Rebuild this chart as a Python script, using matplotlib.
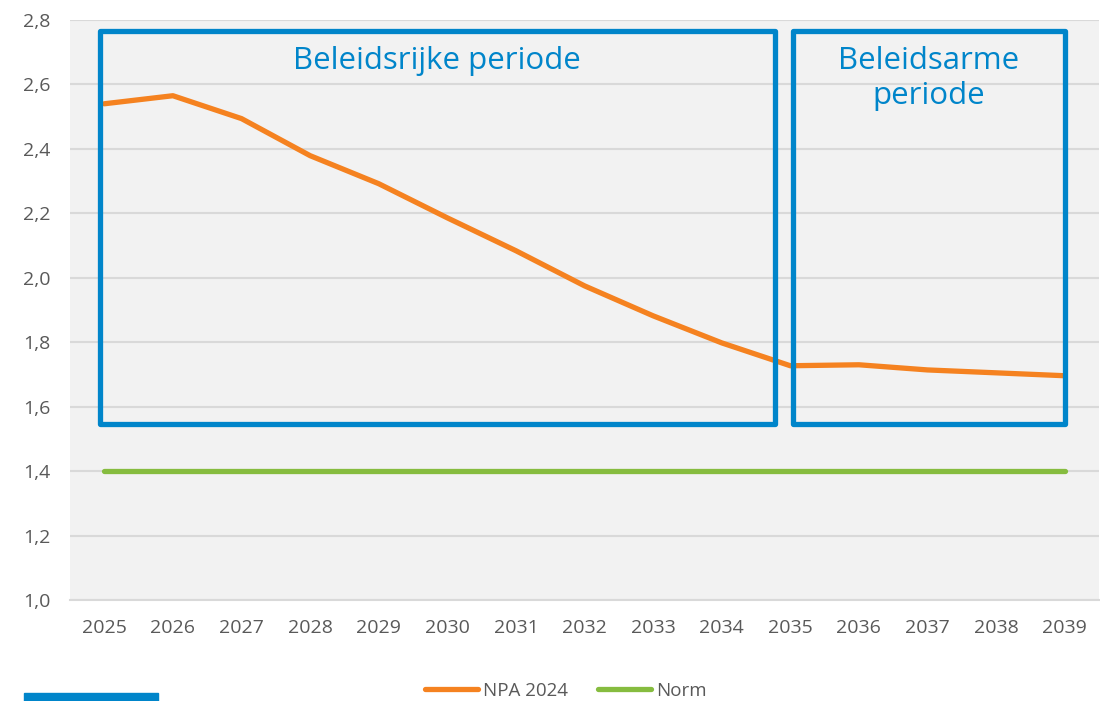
import matplotlib
matplotlib.use("Agg")
import matplotlib.pyplot as plt
from matplotlib.patches import Rectangle
from matplotlib.ticker import FuncFormatter, MultipleLocator

plt.rcParams['font.family'] = ['Open Sans', 'DejaVu Sans']

years = ["2025", "2026", "2027", "2028", "2029", "2030", "2031", "2032",
         "2033", "2034", "2035", "2036", "2037", "2038", "2039"]
npa_2024 = [2.54, 2.565, 2.494, 2.379, 2.292, 2.186, 2.084, 1.975,
            1.882, 1.798, 1.727, 1.730, 1.714, 1.705, 1.696]
norm = [1.4] * len(years)

box_labels = ["Beleidsrijke periode", "Beleidsarme\nperiode"]

orange = "#F58220"
green = "#86BC3F"
blue = "#0085CA"
tick_col = "#595959"

fig = plt.figure(figsize=(11, 7.01), dpi=100)
ax = fig.add_axes([70/1100, 101/701, 1029/1100, 580/701])
ax.set_facecolor("#F2F2F2")

x = list(range(len(years)))
ax.plot(x, npa_2024, color=orange, lw=3.8, solid_capstyle='round', label="NPA 2024", zorder=3)
ax.plot(x, norm, color=green, lw=3.8, solid_capstyle='round', label="Norm", zorder=3)

ax.set_xlim(-0.5, len(years) - 0.5)
ax.set_ylim(1.0, 2.8)
ax.yaxis.set_major_locator(MultipleLocator(0.2))
ax.yaxis.set_major_formatter(FuncFormatter(lambda v, p: f"{v:.1f}".replace(".", ",")))
ax.set_xticks(x)
ax.set_xticklabels(years)
ax.grid(axis='y', color="#D9D9D9", lw=1.5)
ax.set_axisbelow(True)
for s in ["top", "right", "left"]:
    ax.spines[s].set_visible(False)
ax.spines["bottom"].set_color("#D9D9D9")
ax.spines["bottom"].set_linewidth(1.5)
ax.tick_params(axis='both', length=0, labelsize=14, colors=tick_col)
ax.tick_params(axis='x', pad=14)
ax.tick_params(axis='y', pad=14)

# period boxes
y0, y1 = 1.547, 2.767
boxes = [(-0.06, 9.77), (10.04, 14.0)]
for (bx0, bx1), lab in zip(boxes, box_labels):
    r = Rectangle((bx0, y0), bx1 - bx0, y1 - y0, fill=False, ec=blue, lw=3.8,
                  joinstyle='round', zorder=4)
    ax.add_patch(r)
    ax.text((bx0 + bx1) / 2, 2.718, lab, ha='center', va='top', color=blue,
            fontsize=22.5, linespacing=1.22, zorder=5)

leg = fig.legend(loc='center', bbox_to_anchor=(566/1100, 1 - 691/701), ncol=2,
                 frameon=False, fontsize=13.5, handlelength=2.8, handletextpad=0.3,
                 columnspacing=1.6, labelcolor=tick_col)

fig.patches.append(Rectangle((24/1100, 0), 134/1100, 8/701, transform=fig.transFigure,
                             color=blue, zorder=5))

fig.savefig("out.png", dpi=100)
